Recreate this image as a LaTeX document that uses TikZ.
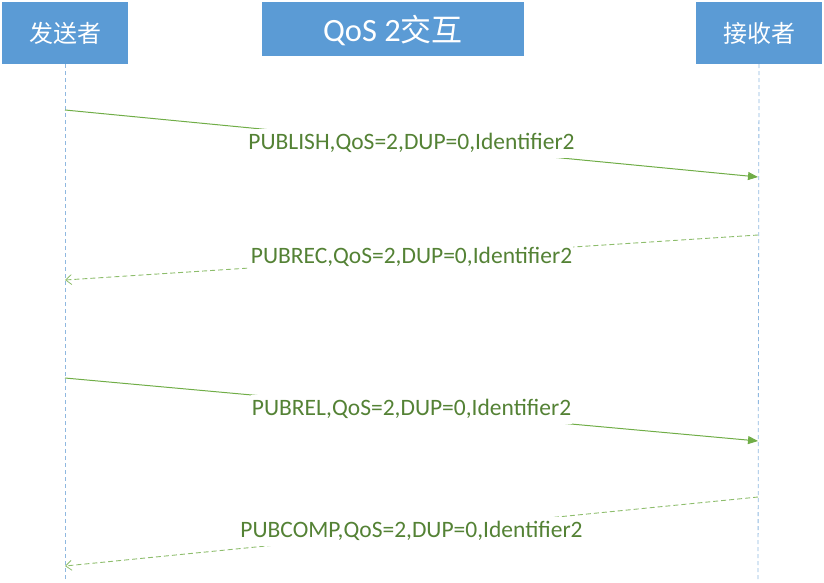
\documentclass[tikz,border=0pt]{standalone}
\usepackage{fontspec}
\setmainfont{Carlito}
\newfontfamily\cjk{Noto Sans CJK SC}
\usetikzlibrary{arrows.meta}
\definecolor{boxblue}{HTML}{5B9BD5}
\definecolor{lineblue}{HTML}{8FB8E0}
\definecolor{arrgreen}{HTML}{70AD47}
\definecolor{txtgreen}{HTML}{548235}
\begin{document}
\begin{tikzpicture}[x=1pt,y=-1pt,
  hdr/.style={fill=boxblue,draw=none,text=white,inner sep=0pt,font=\cjk\fontsize{24}{28}\selectfont},
  life/.style={draw=lineblue,dash pattern=on 4pt off 3pt,line width=0.8pt},
  msg/.style={draw=arrgreen,line width=1pt},
  reply/.style={draw=arrgreen!80,line width=0.9pt,dash pattern=on 5pt off 3pt},
  lbl/.style={fill=white,text=txtgreen,inner xsep=1pt,inner ysep=0pt,text height=20pt,text depth=9pt,font=\fontsize{23.5}{26}\selectfont}]
\useasboundingbox (0,0) rectangle (824,582);
\node[hdr,minimum width=126pt,minimum height=62pt] (snd) at (65,33) {发送者};
\node[hdr,minimum width=262pt,minimum height=54pt,text height=25pt,text depth=1pt,font=\fontsize{32.5}{36}\selectfont] (ttl) at (393,29) {QoS 2{\cjk\fontsize{31}{36}\selectfont 交互}};
\node[hdr,minimum width=126pt,minimum height=62pt] (rcv) at (759,33) {接收者};
\coordinate (sb) at (65,580);
\coordinate (rb) at (758,580);
\draw[life] (snd.south) -- (sb);
\draw[life] (rcv.south) -- (rb);
% messages
\coordinate (a1) at (65,110); \coordinate (b1) at (758,177);
\coordinate (a2) at (758,235); \coordinate (b2) at (65,280);
\coordinate (a3) at (65,378); \coordinate (b3) at (758,441);
\coordinate (a4) at (758,497); \coordinate (b4) at (65,566);
\draw[msg,-{Triangle[length=10pt,width=8pt]}] (a1) -- (b1) node[midway,lbl] (l1) {PUBLISH,QoS=2,DUP=0,Identifier2};
\draw[reply,-{Straight Barb[length=6pt,width=10pt,line width=0.8pt]}] (a2) -- (b2) node[midway,lbl] (l2) {PUBREC,QoS=2,DUP=0,Identifier2};
\draw[msg,-{Triangle[length=10pt,width=8pt]}] (a3) -- (b3) node[midway,lbl] (l3) {PUBREL,QoS=2,DUP=0,Identifier2};
\draw[reply,-{Straight Barb[length=6pt,width=10pt,line width=0.8pt]}] (a4) -- (b4) node[midway,lbl] (l4) {PUBCOMP,QoS=2,DUP=0,Identifier2};
\end{tikzpicture}
\end{document}
